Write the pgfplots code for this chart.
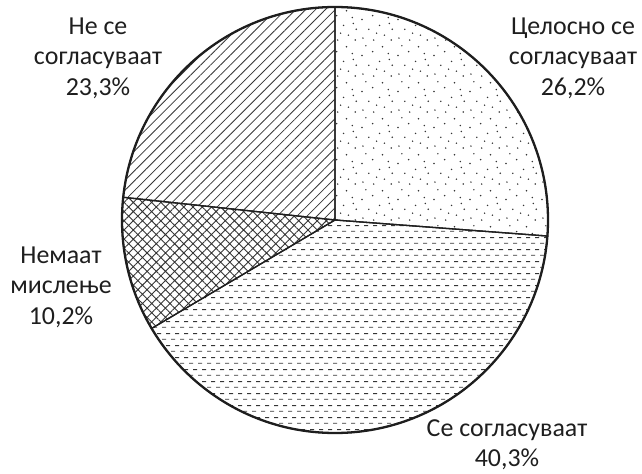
\documentclass[border=0pt]{standalone}
\usepackage{fontspec}
\setmainfont{Carlito}
\usepackage{pgfplots}
\usepackage{pgfplotstable}
\pgfplotsset{compat=1.18}
\usetikzlibrary{patterns,patterns.meta}

% random-looking dots
\pgfdeclarepatternformonly{piedots}{\pgfqpoint{0bp}{0bp}}{\pgfqpoint{36bp}{36bp}}{\pgfqpoint{36bp}{36bp}}{
  \pgfpathcircle{\pgfqpoint{3bp}{4bp}}{0.85bp}
  \pgfpathcircle{\pgfqpoint{14bp}{2bp}}{0.85bp}
  \pgfpathcircle{\pgfqpoint{25bp}{7bp}}{0.85bp}
  \pgfpathcircle{\pgfqpoint{33bp}{13bp}}{0.85bp}
  \pgfpathcircle{\pgfqpoint{9bp}{13bp}}{0.85bp}
  \pgfpathcircle{\pgfqpoint{20bp}{17bp}}{0.85bp}
  \pgfpathcircle{\pgfqpoint{2bp}{23bp}}{0.85bp}
  \pgfpathcircle{\pgfqpoint{29bp}{25bp}}{0.85bp}
  \pgfpathcircle{\pgfqpoint{13bp}{27bp}}{0.85bp}
  \pgfpathcircle{\pgfqpoint{23bp}{32bp}}{0.85bp}
  \pgfpathcircle{\pgfqpoint{6bp}{33bp}}{0.85bp}
  \pgfpathcircle{\pgfqpoint{32bp}{2bp}}{0.85bp}
  \pgfpathcircle{\pgfqpoint{17bp}{9bp}}{0.85bp}
  \pgfpathcircle{\pgfqpoint{30bp}{19bp}}{0.85bp}
  \pgfusepath{fill}
}
% staggered horizontal dashes
\pgfdeclarepatternformonly{piedash}{\pgfqpoint{0bp}{0bp}}{\pgfqpoint{9bp}{12bp}}{\pgfqpoint{9bp}{12bp}}{
  \pgfsetlinewidth{1bp}
  \pgfpathmoveto{\pgfqpoint{0bp}{3bp}}\pgfpathlineto{\pgfqpoint{4.5bp}{3bp}}
  \pgfpathmoveto{\pgfqpoint{4.5bp}{9bp}}\pgfpathlineto{\pgfqpoint{9bp}{9bp}}
  \pgfusepath{stroke}
}

\definecolor{ink}{HTML}{1E1E1E}

\pgfplotstableread{
idx pct
0 26.2
1 40.3
2 10.2
3 23.3
}\piedata

\begin{document}
\begin{tikzpicture}
\begin{axis}[
    scale only axis,
    width=642bp, height=471bp,
    xmin=0, xmax=642, ymin=0, ymax=471,
    axis lines=none,
    clip=false
]
\path (axis cs:0,0) rectangle (axis cs:642,471);
\pgfplotstablegetrowsof{\piedata}
\pgfmathtruncatemacro\nrows{\pgfplotsretval-1}
\def\acc{0}
\pgfplotsforeachungrouped \i in {0,...,\nrows}{
    \pgfplotstablegetelem{\i}{pct}\of\piedata
    \let\v\pgfplotsretval
    \pgfmathsetmacro\astart{90-3.6*\acc}
    \pgfmathsetmacro\aend{90-3.6*(\acc+\v)}
    \pgfmathsetmacro\acc{\acc+\v}
    \ifcase\i
        \def\pat{piedots}\or
        \def\pat{piedash}\or
        \def\pat{Hatch[angle=45,distance=6.5bp,line width=0.9bp]}\or
        \def\pat{Lines[angle=45,distance=7bp,line width=0.8bp]}\fi
    \edef\temp{\noexpand\draw[ink, line width=1.3bp, pattern={\pat}, pattern color=ink!90]
        (axis cs:335,251) -- ++(\astart:213bp)
        arc[start angle=\astart, end angle=\aend, radius=213bp] -- cycle;}
    \temp
}
\draw[ink, line width=2.3bp] (axis cs:335,251) circle[radius=213bp];

\tikzset{lbl/.style={align=center, text=ink, font=\fontsize{26}{30.5}\selectfont}}
\node[lbl] at (axis cs:98,413) {Не се\\согласуваат\\23,3\%};
\node[lbl] at (axis cs:573,413) {Целосно се\\согласуваат\\26,2\%};
\node[lbl] at (axis cs:61,184) {Немаат\\мислење\\10,2\%};
\node[lbl] at (axis cs:507,26) {Се согласуваат\\40,3\%};
\end{axis}
\end{tikzpicture}
\end{document}
